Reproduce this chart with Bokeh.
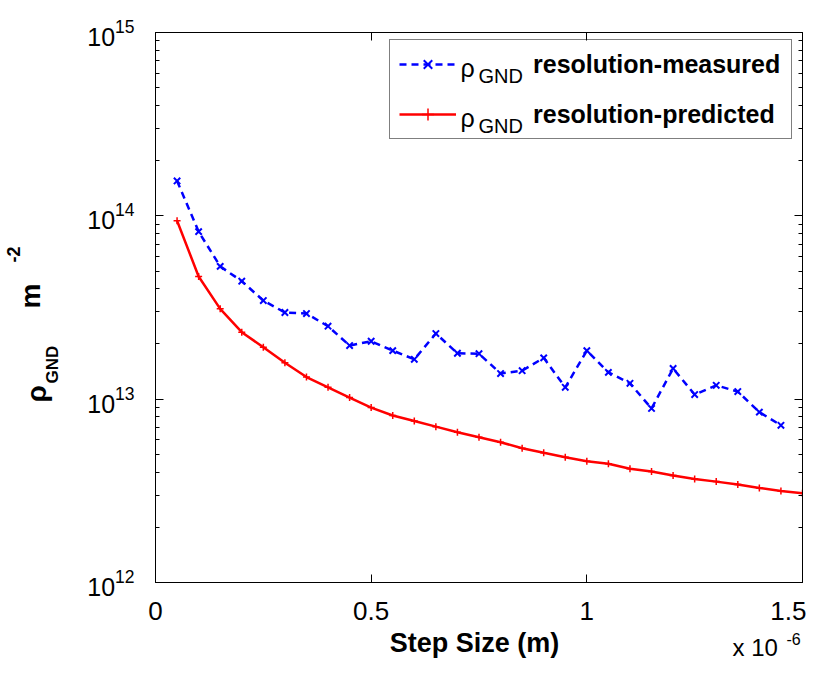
import math
from bokeh.plotting import figure
from bokeh.layouts import row, column
from bokeh.models import (Range1d, FixedTicker, LogAxis, LinearAxis, Legend, LegendItem,
                          Label, CustomJSTickFormatter, LogTickFormatter)
from bokeh.embed import file_html
from bokeh.resources import INLINE

# ---- data (step size in units of 1e-6 m) ----
step_measured = [0.05, 0.10, 0.15, 0.20, 0.25, 0.30, 0.35, 0.40, 0.45, 0.50,
                 0.55, 0.60, 0.65, 0.70, 0.75, 0.80, 0.85, 0.90, 0.95, 1.00,
                 1.05, 1.10, 1.15, 1.20, 1.25, 1.30, 1.35, 1.40, 1.45]
rho_measured = [1.55e14, 8.2e13, 5.3e13, 4.4e13, 3.45e13, 2.97e13, 2.93e13, 2.5e13, 1.96e13, 2.07e13,
                1.84e13, 1.65e13, 2.28e13, 1.78e13, 1.77e13, 1.38e13, 1.43e13, 1.68e13, 1.16e13, 1.84e13,
                1.40e13, 1.22e13, 8.9e12, 1.47e13, 1.06e13, 1.19e13, 1.10e13, 8.5e12, 7.2e12]

step_predicted = [0.05, 0.10, 0.15, 0.20, 0.25, 0.30, 0.35, 0.40, 0.45, 0.50,
                  0.55, 0.60, 0.65, 0.70, 0.75, 0.80, 0.85, 0.90, 0.95, 1.00,
                  1.05, 1.10, 1.15, 1.20, 1.25, 1.30, 1.35, 1.40, 1.45, 1.50]
rho_predicted = [9.4e13, 4.67e13, 3.11e13, 2.32e13, 1.92e13, 1.58e13, 1.32e13, 1.16e13, 1.02e13, 9.0e12,
                 8.15e12, 7.6e12, 7.08e12, 6.6e12, 6.2e12, 5.82e12, 5.4e12, 5.1e12, 4.82e12, 4.59e12,
                 4.44e12, 4.17e12, 4.03e12, 3.83e12, 3.67e12, 3.55e12, 3.42e12, 3.28e12, 3.16e12, 3.07e12]

x_ticks = [0, 0.5, 1, 1.5]
x_tick_labels = ["0", "0.5", "1", "1.5"]
y_decades = [1e12, 1e13, 1e14, 1e15]
legend_labels = ["resolution-measured", "resolution-predicted"]

FONT = "Liberation Sans"
LEFT_W = 75
TOP_H = 628
TOTAL_W = 806
TOTAL_H = 662


def text_fig(w, h):
    f = figure(width=w, height=h, x_range=Range1d(0, 1), y_range=Range1d(0, 1),
               output_backend="svg", toolbar_location=None, title=None,
               x_axis_location=None, y_axis_location=None,
               min_border=0, outline_line_color=None)
    f.xgrid.visible = False
    f.ygrid.visible = False
    return f


def lab(fig, text, x, y, size, style="normal", angle=0.0, align="left"):
    fig.add_layout(Label(text=text, x=x, y=y, x_units="canvas", y_units="canvas", angle=angle,
                         text_font=FONT, text_font_size=size, text_font_style=style,
                         text_color="black", text_align=align, text_baseline="alphabetic"))


# ---------------- main plot ----------------
p = figure(width=TOTAL_W - LEFT_W, height=TOP_H, x_range=Range1d(0, 1.5), y_range=Range1d(1e12, 1e15),
           y_axis_type="log", output_backend="svg", toolbar_location=None, title=None,
           min_border_left=155 - LEFT_W, min_border_right=4, min_border_top=32,
           min_border_bottom=TOP_H - 582)
p.xgrid.visible = False
p.ygrid.visible = False
p.outline_line_color = "black"
p.outline_line_width = 1

y_minor = [m * d for d in y_decades[:-1] for m in range(2, 10)]


def style_axis(ax):
    ax.major_tick_in = 8
    ax.major_tick_out = 0
    ax.minor_tick_in = 4
    ax.minor_tick_out = 0
    ax.axis_line_color = "black"
    ax.major_tick_line_color = "black"
    ax.minor_tick_line_color = "black"
    ax.major_label_text_color = "black"
    ax.major_label_text_font = FONT


xa = p.xaxis[0]
style_axis(xa)
xa.ticker = FixedTicker(ticks=x_ticks)
xa.major_label_overrides = {t: l for t, l in zip(x_ticks, x_tick_labels)}
xa.major_label_text_font_size = "26px"
xa.major_label_standoff = 19

ya = p.yaxis[0]
style_axis(ya)
ya.ticker = FixedTicker(ticks=y_decades, minor_ticks=y_minor)
ya.formatter = LogTickFormatter()
ya.major_label_text_font_size = "25px"
ya.major_label_standoff = 21

blank = CustomJSTickFormatter(code="return ''")
ra = LogAxis(ticker=FixedTicker(ticks=y_decades, minor_ticks=y_minor), formatter=blank,
             major_label_standoff=0)
style_axis(ra)
p.add_layout(ra, "right")
ta = LinearAxis(ticker=FixedTicker(ticks=x_ticks), formatter=blank, major_label_standoff=0)
style_axis(ta)
p.add_layout(ta, "above")

meas_line = p.line(step_measured, rho_measured, line_color="#0000ff", line_width=2.5, line_dash="7 5")
meas_pts = p.scatter(step_measured, rho_measured, marker="x", size=9, line_color="#0000ff", line_width=2)
pred_line = p.line(step_predicted, rho_predicted, line_color="#ff0000", line_width=2.5)
pred_pts = p.scatter(step_predicted, rho_predicted, marker="cross", size=7, line_color="#ff0000", line_width=1.5)

legend = Legend(items=[LegendItem(label=legend_labels[0], renderers=[meas_line, meas_pts]),
                       LegendItem(label=legend_labels[1], renderers=[pred_line, pred_pts])],
                location=(234, 443), orientation="vertical", padding=9, spacing=20,
                glyph_width=57, glyph_height=30, label_height=30, label_width=249,
                label_standoff=77, margin=0, border_line_color="black", border_line_width=1,
                background_fill_alpha=0,
                label_text_font=FONT, label_text_font_style="bold", label_text_font_size="25px",
                label_text_baseline="middle", label_text_color="black")
p.add_layout(legend)

# legend symbols rho_GND (canvas coords of the main plot)
for i in range(2):
    lab(p, "\u03c1", 460 - LEFT_W, 67 + 50 * i, "25px")
    lab(p, "GND", 478 - LEFT_W, 75 + 50 * i, "20px")

# ---------------- left strip: y axis label rho_GND m^-2 ----------------
left = text_fig(LEFT_W, TOP_H)
rot = math.pi / 2
lab(left, "\u03c1", 36, 402, "28px", "bold", rot)
lab(left, "GND", 52, 383, "17px", "bold", rot)
lab(left, "m", 30, 308, "28px", "bold", rot)
lab(left, "-2", 13, 262, "18px", "bold", rot)

# ---------------- bottom strip: x axis label and multiplier ----------------
bottom = text_fig(TOTAL_W, TOTAL_H - TOP_H)
lab(bottom, "Step Size (m)", 474, 14, "27px", "bold", 0.0, "center")
lab(bottom, "x 10", 732, 19, "24px")
lab(bottom, "-6", 786, 10, "16px")

layout = column(row(left, p, spacing=0), bottom, spacing=0)
open("out.html", "w").write(file_html(layout, INLINE))
